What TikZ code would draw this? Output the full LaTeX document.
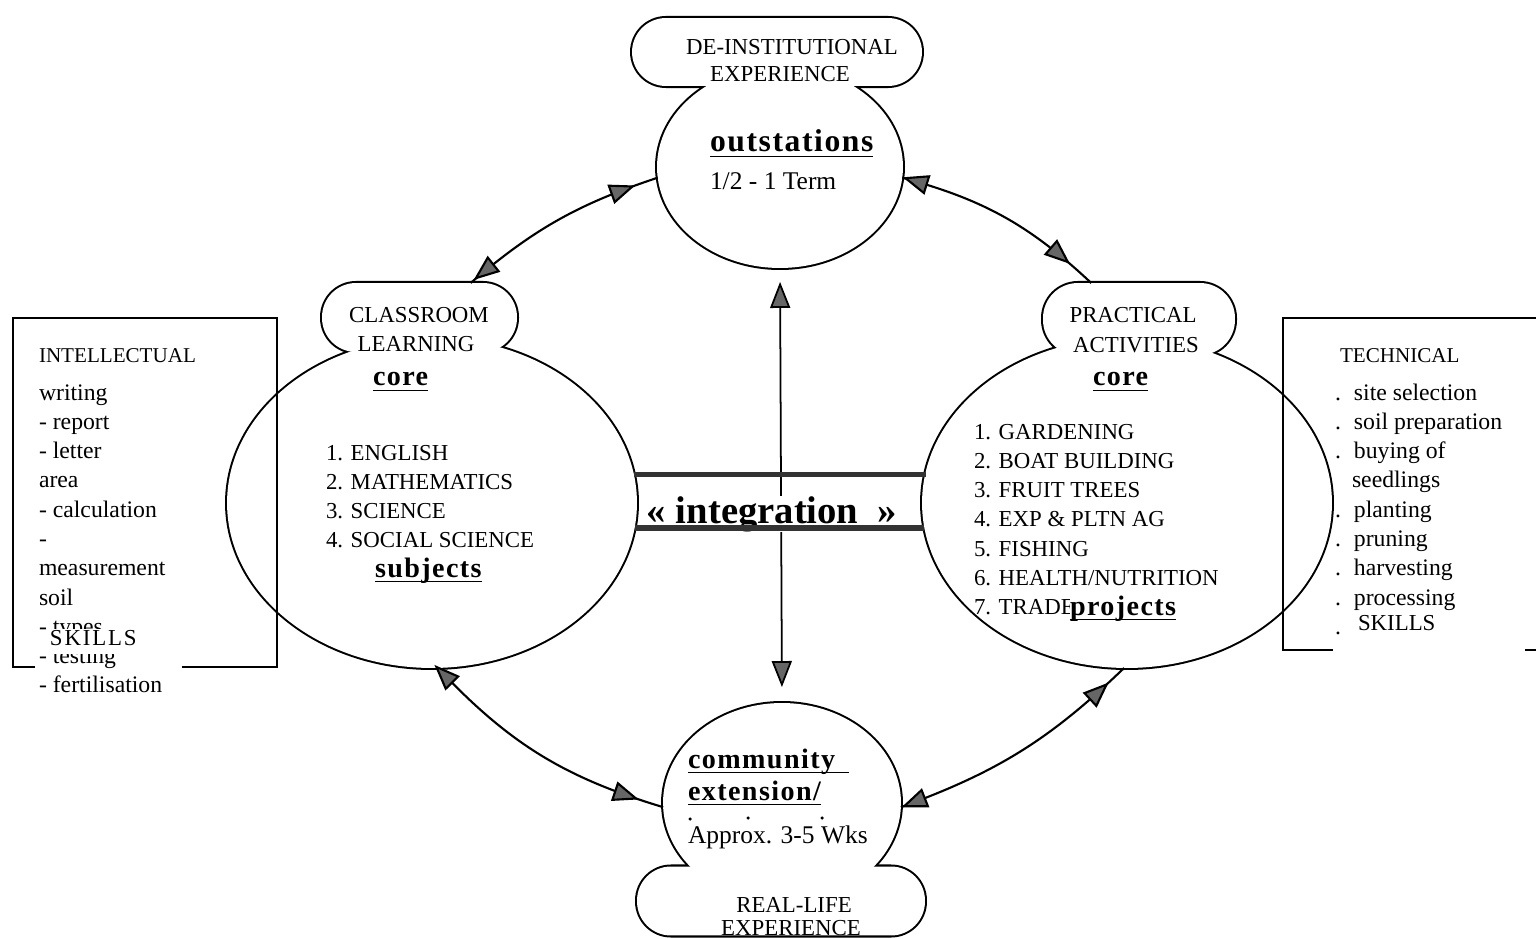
\documentclass[tikz,border=0pt]{standalone}
\usepackage{fontspec}
\setmainfont{Liberation Serif}
\usetikzlibrary{positioning,shapes.geometric,arrows.meta,decorations.markings}
\newcommand{\LineGap}{0.586}
\newcommand{\hd}[1]{\setbox0=\hbox{\bfseries\addfontfeatures{LetterSpace=5}#1}\rlap{\rule[-3pt]{\wd0}{1pt}}\box0}
\newcommand{\Dot}{\makebox[0.38cm][l]{.}}

\tikzset{
	>={Triangle[length=0.52cm, width=0.4cm, fill=black!60]},
	every node/.style={inner sep=0pt, outer sep=0pt},
	rim/.style={draw, line width=2.3pt},
	topbody/.style={ellipse, minimum width=4.92cm, minimum height=4.04cm},
	topcloud/.style={rectangle, rounded corners=0.68cm, minimum width=5.8cm, minimum height=1.36cm},
	leftbody/.style={ellipse, minimum width=8.2cm, minimum height=6.6cm},
	leftcloud/.style={rectangle, rounded corners=0.68cm, minimum width=3.9cm, minimum height=1.38cm},
	rightbody/.style={ellipse, minimum width=8.2cm, minimum height=6.6cm},
	rightcloud/.style={rectangle, rounded corners=0.7cm, minimum width=3.84cm, minimum height=1.44cm},
	lowbody/.style={ellipse, minimum width=4.76cm, minimum height=4cm},
	lowcloud/.style={rectangle, rounded corners=0.68cm, minimum width=5.76cm, minimum height=1.38cm},
	captext/.style={font=\fontsize{13}{15}\selectfont, anchor=base},
	itemtext/.style={font=\fontsize{13}{15}\selectfont, anchor=base west},
	boxtext/.style={font=\fontsize{13.5}{16}\selectfont, anchor=base west},
	headtext/.style={font=\fontsize{12}{14}\selectfont, anchor=base west},
	boldtext/.style={font=\fontsize{16}{19}\selectfont, anchor=base west},
	notetext/.style={font=\fontsize{14.5}{17}\selectfont, anchor=base west},
	skilltext/.style={font=\fontsize{13}{15}\selectfont, anchor=base west, fill=white},
	link/.style 2 args={line width=1.2pt, postaction={decorate},
		decoration={markings, mark=at position #1 with {\arrow{<}}, mark=at position #2 with {\arrow{>}}}},
	bar/.style={line width=3pt, black!80},
	boxline/.style={line width=1pt},
}

\begin{document}
\begin{tikzpicture}[x=0.02cm, y=-0.02cm]
	\useasboundingbox (0,0) rectangle (1536,939);
	\node[topbody, rim] (outs) at (780,167) {};
	\node[topcloud, rim] (outscloud) at (777,52) {};
	\node[leftbody, rim] (cell) at (432,503) {};
	\node[leftcloud, rim] (cellcloud) at (419.5,317.5) {};
	\node[rightbody, rim] (pell) at (1127,503) {};
	\node[rightcloud, rim] (pellcloud) at (1139,319) {};
	\node[lowbody, rim] (comm) at (782,803) {};
	\node[lowcloud, rim] (commcloud) at (781,901) {};
	\node[topbody, fill=white] (outsf) at (outs) {};
	\node[topcloud, fill=white] (outscloudf) at (outscloud) {};
	\node[leftbody, fill=white] (cellf) at (cell) {};
	\node[leftcloud, fill=white] (cellcloudf) at (cellcloud) {};
	\node[rightbody, fill=white] (pellf) at (pell) {};
	\node[rightcloud, fill=white] (pellcloudf) at (pellcloud) {};
	\node[lowbody, fill=white] (commf) at (comm) {};
	\node[lowcloud, fill=white] (commcloudf) at (commcloud) {};

	\draw[boxline] (35,667) -- (13,667) -- (13,318) -- (277,318) -- (277,667) -- (182,667);
	\draw[boxline] (1333,650) -- (1283,650) -- (1283,318) -- (1536,318);
	\draw[boxline] (1525,650) -- (1536,650);

	\draw[link={0.14}{0.89}] (cellcloud.34) to[bend left=11] (outs.185);
	\draw[link={0.12}{0.87}] (outs.-5) to[bend left=14] (pellcloud.143);
	\draw[link={0.08}{0.905}] (cell.-88) to[bend right=15] (comm.182);
	\draw[link={0.10}{0.92}] (comm.-2) to[bend right=12] (pell.-91);
	\draw[<->, line width=1pt, shorten <=0.28cm, shorten >=0.32cm] (outs.south) -- (comm.north);
	\node[font=\fontsize{22}{26}\selectfont\bfseries, fill=white, anchor=base] (integ) at (772,523) {«\ integration\ \ »};
	\draw[bar] (cell.8.2) -- (cell.8.2 -| pell.171.8);
	\draw[bar] (cell.-7.9) -- (cell.-7.9 -| pell.187.9);

	\node[captext] (deinst) at (792,55) {DE-INSTITUTIONAL};
	\node[captext] (expa) at (780,82) {EXPERIENCE};
	\node[boldtext, font=\fontsize{18}{21}\selectfont] (outst) at (710,152) {\hd{outstations}};
	\node[notetext] (term) at (710,190) {1/2 - 1 Term};

	\node[captext] (clsr) at (419,323) {CLASSROOM};
	\node[captext] (lrn) at (416,352) {LEARNING};
	\node[boldtext] (corel) at (373,386) {\hd{core}};
	\node[itemtext] (cl1) at (326,460) {1. ENGLISH};
	\node[below=\LineGap cm of cl1.base west, itemtext] (cl2) {2. MATHEMATICS};
	\node[below=\LineGap cm of cl2.base west, itemtext] (cl3) {3. SCIENCE};
	\node[below=\LineGap cm of cl3.base west, itemtext] (cl4) {4. SOCIAL SCIENCE};
	\node[boldtext] (subj) at (375,577) {\hd{subjects}};

	\node[captext] (prac) at (1133,323) {PRACTICAL};
	\node[captext] (act) at (1136,353) {ACTIVITIES};
	\node[boldtext] (corer) at (1093,386) {\hd{core}};
	\node[itemtext] (pa1) at (974,439) {1. GARDENING};
	\node[below=\LineGap cm of pa1.base west, itemtext] (pa2) {2. BOAT BUILDING};
	\node[below=\LineGap cm of pa2.base west, itemtext] (pa3) {3. FRUIT TREES};
	\node[below=\LineGap cm of pa3.base west, itemtext] (pa4) {4. EXP \& PLTN AG};
	\node[below=\LineGap cm of pa4.base west, itemtext] (pa5) {5. FISHING};
	\node[below=\LineGap cm of pa5.base west, itemtext] (pa6) {6. HEALTH/NUTRITION};
	\node[below=\LineGap cm of pa6.base west, itemtext] (pa7) {7. TRADE};
	\node[boldtext, fill=white] (proj) at (1070,615) {\hd{projects}};

	\node[boldtext] (commu) at (688,768) {\hd{community\hspace{0.28cm}}};
	\node[boldtext] (ext) at (688,800) {\hd{extension/}};
	\fill (690,819) circle[radius=0.035cm] (748,818) circle[radius=0.035cm] (822,818) circle[radius=0.035cm];
	\node[notetext] (wks) at (688,843) {Approx. 3-5 Wks};
	\node[captext] (real) at (794,912) {REAL-LIFE};
	\node[captext, fill=white] (expb) at (791,935) {EXPERIENCE};

	\node[headtext] (intel) at (39,363) {INTELLECTUAL};
	\node[boxtext] (iw1) at (39,400) {writing};
	\node[below=\LineGap cm of iw1.base west, boxtext] (iw2) {- report};
	\node[below=\LineGap cm of iw2.base west, boxtext] (iw3) {- letter};
	\node[below=\LineGap cm of iw3.base west, boxtext] (iw4) {area};
	\node[below=\LineGap cm of iw4.base west, boxtext] (iw5) {- calculation};
	\node[below=\LineGap cm of iw5.base west, boxtext] (iw6) {-};
	\node[below=\LineGap cm of iw6.base west, boxtext] (iw7) {measurement};
	\node[below=\LineGap cm of iw7.base west, boxtext] (iw8) {soil};
	\node[below=\LineGap cm of iw8.base west, boxtext] (iw9) {- types};
	\node[below=\LineGap cm of iw9.base west, boxtext] (iw10) {- testing};
	\node[below=\LineGap cm of iw10.base west, boxtext] (iw11) {- fertilisation};
	\node[skilltext, text height=0.32cm, text depth=0.18cm] (iskill) at (50,645) {\addfontfeatures{LetterSpace=8}SKILLS};

	\node[headtext] (tech) at (1340,363) {TECHNICAL};
	\node[boxtext] (tw1) at (1335,400) {\Dot site selection};
	\node[below=\LineGap cm of tw1.base west, boxtext] (tw2) {\Dot soil preparation};
	\node[below=\LineGap cm of tw2.base west, boxtext] (tw3) {\Dot buying of};
	\node[below=\LineGap cm of tw3.base west, boxtext] (tw4) {\makebox[0.34cm]{}seedlings};
	\node[below=\LineGap cm of tw4.base west, boxtext] (tw5) {\Dot planting};
	\node[below=\LineGap cm of tw5.base west, boxtext] (tw6) {\Dot pruning};
	\node[below=\LineGap cm of tw6.base west, boxtext] (tw7) {\Dot harvesting};
	\node[below=\LineGap cm of tw7.base west, boxtext] (tw8) {\Dot processing};
	\node[below=\LineGap cm of tw8.base west, boxtext] (tw9) {.};
	\node[skilltext] (tskill) at (1358,630) {SKILLS};
\end{tikzpicture}
\end{document}
